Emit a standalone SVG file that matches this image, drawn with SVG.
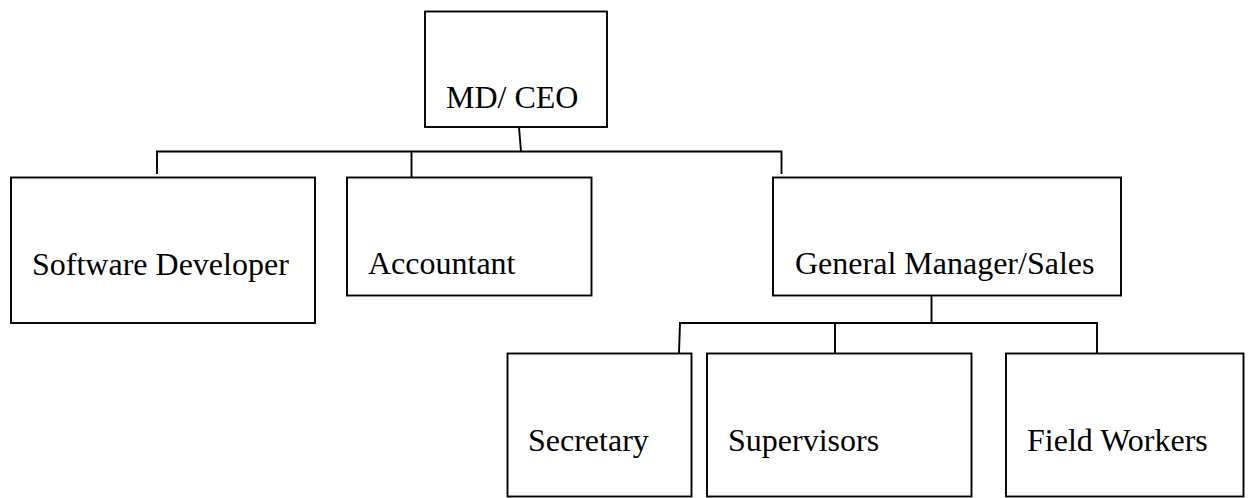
<svg xmlns="http://www.w3.org/2000/svg" width="1251" height="498" viewBox="0 0 1251 498">
<style>
.box{fill:#fff;stroke:#000;stroke-width:1.9}
.lbl{font-family:"Liberation Serif","Times New Roman",serif;font-size:32px;fill:#000}
.con{fill:none;stroke:#000;stroke-width:1.9}
</style>
<rect width="1251" height="498" fill="#fff"/>
<g id="connectors">
<path class="con" d="M519,127 L521,151.5"/>
<path class="con" d="M157,174 V151.5 H781.5 V174"/>
<path class="con" d="M411.5,151.5 V177.5"/>
<path class="con" d="M931.5,295.5 V323"/>
<path class="con" d="M679,353 L680,323 H1097 V353"/>
<path class="con" d="M835,323 V354"/>
</g>
<g id="ceo">
<rect class="box" x="425" y="11.5" width="182" height="115.5"/>
<text class="lbl" x="446" y="108">MD/ CEO</text>
</g>
<g id="software-developer">
<rect class="box" x="11" y="177.5" width="304" height="145.5"/>
<text class="lbl" x="32" y="275">Software Developer</text>
</g>
<g id="accountant">
<rect class="box" x="347" y="177.5" width="244.5" height="118"/>
<text class="lbl" x="368" y="273.5">Accountant</text>
</g>
<g id="general-manager">
<rect class="box" x="773" y="177.5" width="348" height="118"/>
<text class="lbl" x="795" y="273.5">General Manager/Sales</text>
</g>
<g id="secretary">
<rect class="box" x="507.5" y="353.5" width="184" height="143"/>
<text class="lbl" x="528" y="451">Secretary</text>
</g>
<g id="supervisors">
<rect class="box" x="707" y="353.5" width="264.5" height="143"/>
<text class="lbl" x="728" y="451">Supervisors</text>
</g>
<g id="field-workers">
<rect class="box" x="1006" y="353.5" width="237.5" height="143"/>
<text class="lbl" x="1027" y="451">Field Workers</text>
</g>
</svg>
